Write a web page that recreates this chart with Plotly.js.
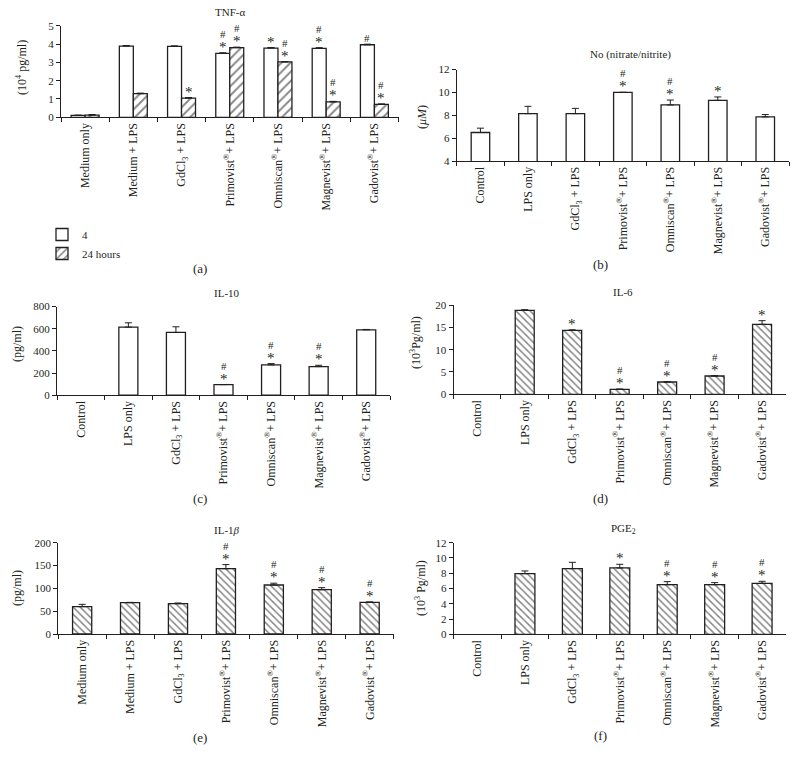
<!DOCTYPE html>
<html><head><meta charset="utf-8">
<script src="https://cdn.plot.ly/plotly-3.0.1.min.js"></script>
<style>html,body{margin:0;padding:0;background:#fff}#chart{width:796px;height:770px}</style>
</head><body><div id="chart"></div>
<script>
// ---------- categories ----------
const GD = 'GdCl<sub>3</sub> + LPS';
const PRI = 'Primovist<sup>®</sup>+ LPS';
const OMN = 'Omniscan<sup>®</sup>+ LPS';
const MAG = 'Magnevist<sup>®</sup>+ LPS';
const GAD = 'Gadovist<sup>®</sup>+ LPS';
const catsMedium = ['Medium only', 'Medium + LPS', GD, PRI, OMN, MAG, GAD];
const catsControl = ['Control', 'LPS only', GD, PRI, OMN, MAG, GAD];

// ---------- (a) TNF-alpha ----------
const tnf4h      = [0.10, 3.89, 3.87, 3.49, 3.78, 3.76, 3.96];
const tnf4hErr   = [0.02, 0.03, 0.03, 0.03, 0.03, 0.04, 0.03];
const tnf4hSig   = ['', '', '', '#*', '*', '#*', '#'];
const tnf24h     = [0.12, 1.29, 1.05, 3.80, 3.02, 0.84, 0.71];
const tnf24hErr  = [0.03, 0.03, 0.03, 0.03, 0.02, 0.03, 0.02];
const tnf24hSig  = ['', '', '*', '#*', '#*', '#*', '#*'];

// ---------- (b) NO ----------
const noVals = [6.49, 8.14, 8.14, 10.0, 8.9, 9.3, 7.86];
const noErr  = [0.38, 0.64, 0.46, 0, 0.43, 0.30, 0.20];
const noSig  = ['', '', '', '#*', '#*', '*', ''];

// ---------- (c) IL-10 ----------
const il10Vals = [null, 614, 566, 96, 273, 258, 590];
const il10Err  = [0, 39, 51, 0, 12, 12, 3];
const il10Sig  = ['', '', '', '#*', '#*', '#*', ''];

// ---------- (d) IL-6 ----------
const il6Vals = [null, 18.8, 14.33, 1.12, 2.76, 4.1, 15.67];
const il6Err  = [0, 0.15, 0.1, 0.05, 0.05, 0.05, 0.82];
const il6Sig  = ['', '', '*', '#*', '#*', '#*', '*'];

// ---------- (e) IL-1beta ----------
const il1bVals = [60, 68.6, 66.4, 143, 107.3, 97, 69.3];
const il1bErr  = [5, 0.7, 1.5, 9, 4, 4.5, 1];
const il1bSig  = ['', '', '', '#*', '#*', '#*', '#*'];

// ---------- (f) PGE2 ----------
const pgeVals = [null, 7.95, 8.6, 8.69, 6.5, 6.5, 6.68];
const pgeErr  = [0, 0.35, 0.83, 0.48, 0.40, 0.27, 0.26];
const pgeSig  = ['', '', '', '*', '#*', '#*', '#*'];

// ---------- styling ----------
const F = 'Liberation Serif, Times New Roman, serif';
const INK = '#231f20';
const W = 796, H = 770;
const px = v => v / W;
const py = v => 1 - v / H;

function errObj(arr) {
  return {type: 'data', array: arr, arrayminus: arr.map(() => 0), symmetric: false,
          color: INK, thickness: 1, width: 3.5, visible: true};
}
function barTrace(cats, vals, errs, ax, opts) {
  const hatch = opts.hatch;
  return {
    type: 'bar', x: cats, y: vals, xaxis: 'x' + ax, yaxis: 'y' + ax,
    width: opts.width, offset: opts.offset,
    marker: {
      color: 'white',
      line: {color: INK, width: 1.3},
      pattern: hatch ? {shape: hatch, size: opts.psize || 5, solidity: 0.3, fgcolor: '#111', bgcolor: 'white', fillmode: 'overlay'} : {shape: ''}
    },
    error_y: errObj(errs),
    showlegend: !!opts.name, name: opts.name || '',
    hoverinfo: 'skip'
  };
}
// significance marks: '#' above '*'
function sigText(s) {
  const star = '<span style="font-size:15px">*</span>';
  if (s === '#*') return '#<br>' + star;
  if (s === '*') return star;
  return s;
}
function sigAnn(cats, vals, errs, sig, ax, xshift) {
  const out = [];
  cats.forEach((c, i) => {
    if (!sig[i]) return;
    const hasStar = sig[i].indexOf('*') >= 0;
    out.push({x: c, y: vals[i] + errs[i], xref: 'x' + ax, yref: 'y' + ax, text: sigText(sig[i]),
      showarrow: false, xanchor: 'center', yanchor: 'bottom', xshift: xshift || 0,
      yshift: hasStar ? -4 : -2,
      font: {family: F, size: 11, color: INK}});
  });
  return out;
}
function xAx(domain, cats) {
  return {domain: domain, type: 'category', categoryorder: 'array', categoryarray: cats,
    range: [-0.5, 6.5], showline: true, linecolor: INK, linewidth: 1, ticks: 'outside',
    tickson: 'boundaries', ticklen: 4, tickcolor: INK, tickangle: -90, showgrid: false, zeroline: false,
    tickfont: {family: F, size: 12, color: INK}, fixedrange: true};
}
function yAx(domain, range, dtick, anchor) {
  return {domain: domain, range: range, dtick: dtick, anchor: anchor, showline: true, linecolor: INK,
    linewidth: 1, ticks: 'outside', ticklen: 4, tickcolor: INK, showgrid: false, zeroline: false,
    tickfont: {family: F, size: 11, color: INK}, fixedrange: true};
}

const traces = [
  barTrace(catsMedium, tnf4h, tnf4hErr, '', {width: 0.29, offset: -0.29, name: '4'}),
  barTrace(catsMedium, tnf24h, tnf24hErr, '', {width: 0.29, offset: 0, hatch: '/', psize: 6.5, name: '24 hours'}),
  barTrace(catsControl, noVals, noErr, '2', {width: 0.39}),
  barTrace(catsControl, il10Vals, il10Err, '3', {width: 0.4}),
  barTrace(catsControl, il6Vals, il6Err, '4', {width: 0.4, hatch: '\\', psize: 5}),
  barTrace(catsMedium, il1bVals, il1bErr, '5', {width: 0.4, hatch: '\\', psize: 5}),
  barTrace(catsControl, pgeVals, pgeErr, '6', {width: 0.42, hatch: '\\', psize: 5})
];

function txt(x, y, text, size, angle) {
  return {xref: 'paper', yref: 'paper', x: px(x), y: py(y), text: text, showarrow: false,
    xanchor: 'center', yanchor: 'middle', textangle: angle || 0,
    font: {family: F, size: size, color: INK}};
}

const annotations = [].concat(
  sigAnn(catsMedium, tnf4h, tnf4hErr, tnf4hSig, '', -7),
  sigAnn(catsMedium, tnf24h, tnf24hErr, tnf24hSig, '', 7),
  sigAnn(catsControl, noVals, noErr, noSig, '2'),
  sigAnn(catsControl, il10Vals, il10Err, il10Sig, '3'),
  sigAnn(catsControl, il6Vals, il6Err, il6Sig, '4'),
  sigAnn(catsMedium, il1bVals, il1bErr, il1bSig, '5'),
  sigAnn(catsControl, pgeVals, pgeErr, pgeSig, '6'),
  [
    txt(230, 12, 'TNF-α', 11),
    txt(630, 54, 'No (nitrate/nitrite)', 11),
    txt(227, 293, 'IL-10', 11),
    txt(623, 292, 'IL-6', 11),
    txt(227, 530, 'IL-1<i>β</i>', 11),
    txt(623, 529, 'PGE<sub>2</sub>', 11),
    txt(21, 68, '(10<sup>4</sup> pg/ml)', 12, -90),
    txt(422, 117, '(<i>μM</i>)', 12, -90),
    txt(17, 344, '(pg/ml)', 12, -90),
    txt(415, 342, '(10<sup>3</sup>Pg/ml)', 12, -90),
    txt(17, 588, '(pg/ml)', 12, -90),
    txt(420, 588, '(10<sup>3</sup> Pg/ml)', 12, -90),
    txt(200, 268, '(a)', 13),
    txt(600, 265, '(b)', 13),
    txt(200, 498, '(c)', 13),
    txt(600, 498, '(d)', 13),
    txt(200, 737, '(e)', 13),
    txt(600, 735, '(f)', 13)
  ]
);

const layout = {
  width: W, height: H, margin: {l: 0, r: 0, t: 0, b: 0},
  paper_bgcolor: 'white', plot_bgcolor: 'white',
  barmode: 'overlay',
  font: {family: F, color: INK, size: 11},
  showlegend: true,
  legend: {x: px(42), y: py(220), xanchor: 'left', yanchor: 'top', orientation: 'v',
    font: {family: F, size: 11, color: INK}, bgcolor: 'rgba(0,0,0,0)', tracegroupgap: 0,
    itemwidth: 30, itemclick: false},
  xaxis: xAx([px(61), px(398.5)], catsMedium),
  yaxis: yAx([py(117.3), py(25.7)], [0, 5], 1, 'x'),
  xaxis2: xAx([px(456.7), px(789)], catsControl),
  yaxis2: yAx([py(161), py(69.5)], [4, 12], 2, 'x2'),
  xaxis3: xAx([px(57), px(390)], catsControl),
  yaxis3: yAx([py(395.2), py(306.5)], [0, 800], 200, 'x3'),
  xaxis4: xAx([px(453.5), px(785.8)], catsControl),
  yaxis4: yAx([py(394.3), py(305)], [0, 20], 5, 'x4'),
  xaxis5: xAx([px(58.2), px(393.6)], catsMedium),
  yaxis5: yAx([py(634), py(542.7)], [0, 200], 50, 'x5'),
  xaxis6: xAx([px(453.8), px(785.8)], catsControl),
  yaxis6: yAx([py(634.3), py(542.7)], [0, 12], 2, 'x6'),
  annotations: annotations
};
layout.xaxis.anchor = 'y';
layout.xaxis2.anchor = 'y2';
layout.xaxis3.anchor = 'y3';
layout.xaxis4.anchor = 'y4';
layout.xaxis5.anchor = 'y5';
layout.xaxis6.anchor = 'y6';

Plotly.newPlot('chart', traces, layout, {displayModeBar: false, staticPlot: true});
</script>
</body></html>
